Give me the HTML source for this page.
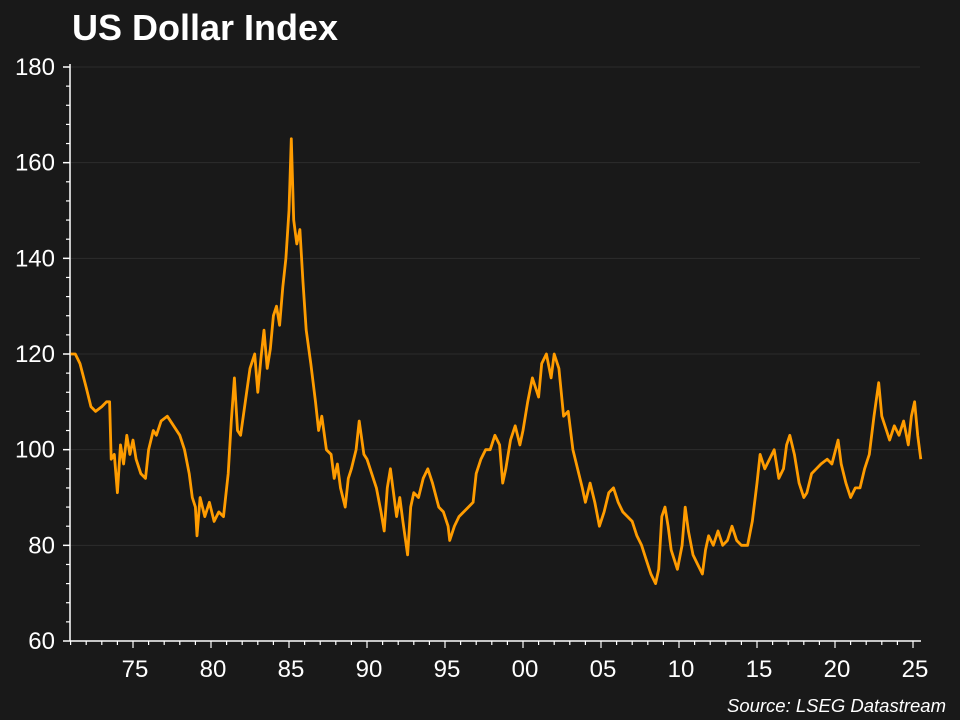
<!DOCTYPE html>
<html><head><meta charset="utf-8"><style>
html,body{margin:0;padding:0;background:#191919;}
svg{display:block;font-family:"Liberation Sans",Arial,sans-serif;}
</style></head><body>
<svg id="chart" width="960" height="720" viewBox="0 0 960 720">
<rect x="0" y="0" width="960" height="720" fill="#191919"/>
<text x="72" y="40" fill="#ffffff" font-size="36" font-weight="bold">US Dollar Index</text>
<g id="grid"></g>
<g id="axes"></g>
<path id="line" fill="none" stroke="#ff9c00" stroke-width="2.8" stroke-linejoin="round"/>
<text x="946" y="712" fill="#ffffff" font-size="18.5" font-style="italic" text-anchor="end">Source: LSEG Datastream</text>
</svg>
<script>
const years = [1971.0,1971.3,1971.6,1972,1972.3,1972.6,1973.0,1973.3,1973.5,1973.6,1973.8,1974.0,1974.2,1974.4,1974.6,1974.8,1975.0,1975.2,1975.5,1975.8,1976.0,1976.3,1976.5,1976.8,1977.2,1977.6,1978.0,1978.3,1978.6,1978.8,1979.0,1979.1,1979.3,1979.6,1979.9,1980.2,1980.5,1980.8,1981.1,1981.3,1981.5,1981.7,1981.9,1982.2,1982.5,1982.8,1983.0,1983.2,1983.4,1983.6,1983.8,1984.0,1984.2,1984.4,1984.6,1984.8,1985.0,1985.15,1985.3,1985.5,1985.7,1985.9,1986.1,1986.4,1986.7,1986.9,1987.1,1987.4,1987.7,1987.9,1988.1,1988.3,1988.6,1988.8,1989.0,1989.3,1989.5,1989.8,1990.0,1990.3,1990.6,1990.9,1991.1,1991.3,1991.5,1991.7,1991.9,1992.1,1992.3,1992.6,1992.8,1993.0,1993.3,1993.6,1993.9,1994.2,1994.6,1994.9,1995.2,1995.3,1995.6,1995.9,1996.2,1996.5,1996.8,1997.0,1997.3,1997.6,1997.9,1998.2,1998.5,1998.7,1998.9,1999.2,1999.5,1999.8,2000.0,2000.3,2000.6,2000.8,2001.0,2001.2,2001.5,2001.8,2002.0,2002.3,2002.6,2002.9,2003.2,2003.5,2003.8,2004.0,2004.3,2004.6,2004.9,2005.2,2005.5,2005.8,2006.1,2006.4,2006.7,2007.0,2007.3,2007.6,2007.9,2008.2,2008.5,2008.7,2008.9,2009.1,2009.3,2009.5,2009.7,2009.9,2010.2,2010.4,2010.6,2010.9,2011.2,2011.5,2011.7,2011.9,2012.2,2012.5,2012.8,2013.1,2013.4,2013.7,2014.0,2014.4,2014.7,2015.0,2015.2,2015.5,2015.8,2016.1,2016.4,2016.7,2016.9,2017.1,2017.4,2017.7,2018.0,2018.2,2018.5,2018.8,2019.1,2019.5,2019.8,2020.2,2020.4,2020.7,2021.0,2021.3,2021.6,2021.9,2022.2,2022.5,2022.8,2023.0,2023.3,2023.5,2023.8,2024.1,2024.4,2024.7,2024.9,2025.1,2025.3,2025.5];
const values = [120,120,118,113,109,108,109,110,110,98,99,91,101,97,103,99,102,98,95,94,100,104,103,106,107,105,103,100,95,90,88,82,90,86,89,85,87,86,95,106,115,104,103,110,117,120,112,119,125,117,121,128,130,126,134,140,150,165,148,143,146,135,125,118,110,104,107,100,99,94,97,92,88,94,96,100,106,99,98,95,92,87,83,92,96,91,86,90,85,78,88,91,90,94,96,93,88,87,84,81,84,86,87,88,89,95,98,100,100,103,101,93,96,102,105,101,104,110,115,113,111,118,120,115,120,117,107,108,100,96,92,89,93,89,84,87,91,92,89,87,86,85,82,80,77,74,72,75,86,88,84,79,77,75,80,88,83,78,76,74,79,82,80,83,80,81,84,81,80,80,85,93,99,96,98,100,94,96,101,103,99,93,90,91,95,96,97,98,97,102,97,93,90,92,92,96,99,107,114,107,104,102,105,103,106,101,107,110,103,98];
const yTicks = [60,80,100,120,140,160,180];
const xTickYears = [1975,1980,1985,1990,1995,2000,2005,2010,2015,2020,2025];
const xTickLabels = ["75","80","85","90","95","00","05","10","15","20","25"];

const X0=70.6, PXY=15.6, YBOT=641, YTOP=67, VMIN=60, VMAX=180;
const xs = y => X0 + (y-1971)*PXY;
const ys = v => YBOT - (v-VMIN)/(VMAX-VMIN)*(YBOT-YTOP);
const NS="http://www.w3.org/2000/svg";
const grid=document.getElementById('grid'), axes=document.getElementById('axes');
function mk(tag,attrs,parent){const e=document.createElementNS(NS,tag);for(const k in attrs)e.setAttribute(k,attrs[k]);parent.appendChild(e);return e;}

yTicks.forEach(v=>{
  if(v>VMIN){const g=mk('line',{x1:70,x2:920,y1:ys(v),y2:ys(v),stroke:'#2c2c2c','stroke-width':1},grid);
  
  }
  const t=mk('text',{x:55,y:ys(v)+8,fill:'#fff','font-size':24,'text-anchor':'end'},axes);
  t.textContent=v;
  
  
  const tk=mk('line',{x1:63,x2:70,y1:ys(v),y2:ys(v),stroke:'#fff','stroke-width':1.5},axes);
  
  
});
for(let v=VMIN;v<VMAX;v+=4){ if(v%20===0) continue;
  const m=mk('line',{x1:66,x2:70,y1:ys(v),y2:ys(v),stroke:'#fff','stroke-width':1.2},axes);
  
  
}
const ya=mk('line',{x1:70,x2:70,y1:YTOP-3,y2:YBOT,stroke:'#fff','stroke-width':1.5},axes);


const xa=mk('line',{x1:70,x2:921,y1:YBOT,y2:YBOT,stroke:'#fff','stroke-width':1.5},axes);


for(let y=1971;y<=2025;y++){
  const long = y%5===0;
  const m=mk('line',{x1:xs(y),x2:xs(y),y1:YBOT,y2:YBOT+(long?7:4),stroke:'#fff','stroke-width':1.2},axes);
  
  
}
xTickYears.forEach((y,i)=>{
  const t=mk('text',{x:xs(y)+2,y:677,fill:'#fff','font-size':24,'text-anchor':'middle'},axes);
  t.textContent=xTickLabels[i];
  
  
});
let d='';
years.forEach((y,i)=>{d+=(i?'L':'M')+xs(y).toFixed(1)+','+ys(values[i]).toFixed(1);});
document.getElementById('line').setAttribute('d',d);
</script>
</body></html>
